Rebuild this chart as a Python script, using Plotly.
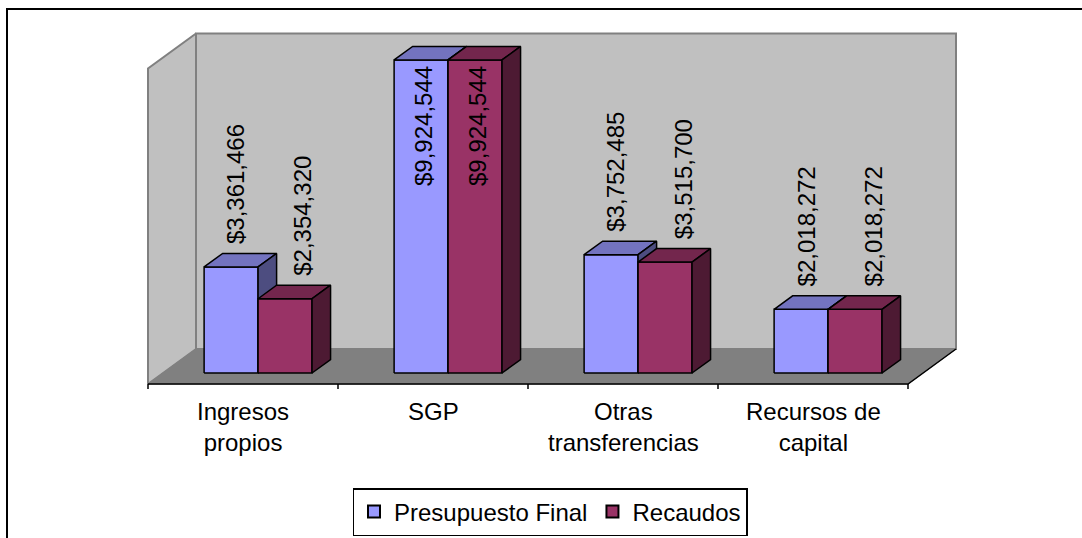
import plotly.graph_objects as go

# ---------------- data ----------------
categories = ["Ingresos<br>propios", "SGP", "Otras<br>transferencias", "Recursos de<br>capital"]
presupuesto_final = [3361466, 9924544, 3752485, 2018272]
recaudos = [2354320, 9924544, 3515700, 2018272]
series_names = ["Presupuesto Final", "Recaudos"]
axis_max = 10_000_000

# ---------------- style / geometry ----------------
W, H = 1082, 538
PX_L, PX_R, PX_T, PX_B = 140, 965, 24, 392   # plot area in pixels
FRONT_X0 = 148      # pixel of category axis start
CAT_PX = 190        # pixels per category
FLOOR_PX = 384      # pixel of front floor edge
U = 31700           # value units per pixel
DX = 48 / CAT_PX    # full depth shift in x units
DY = 35 * U         # full depth shift in y units
D0, D1 = 0.314, 0.70  # bar depth span
BAR_OFF, BAR_W = 0.216, 0.284

front_cols = ["#9999FF", "#993366"]
top_cols = ["#7373BF", "#73264D"]
side_cols = ["#4D4D80", "#4D1A33"]
FONT = "Liberation Sans, Arial, sans-serif"


def proj(x, y, d):
    return x + d * DX, y + d * DY


fig = go.Figure()


def poly(pts, fill, line_color, lw):
    xs = [p[0] for p in pts] + [pts[0][0]]
    ys = [p[1] for p in pts] + [pts[0][1]]
    fig.add_trace(go.Scatter(x=xs, y=ys, mode="lines", fill="toself",
                             fillcolor=fill, line=dict(color=line_color, width=lw),
                             hoverinfo="skip", showlegend=False))


def line(pts, color, lw):
    fig.add_trace(go.Scatter(x=[p[0] for p in pts], y=[p[1] for p in pts], mode="lines",
                             line=dict(color=color, width=lw), hoverinfo="skip",
                             showlegend=False))


n = len(categories)
# walls and floor
poly([proj(0, 0, 1), proj(n, 0, 1), proj(n, axis_max, 1), proj(0, axis_max, 1)],
     "#C0C0C0", "#808080", 2)
poly([proj(0, 0, 0), proj(0, 0, 1), proj(0, axis_max, 1), proj(0, axis_max, 0)],
     "#C0C0C0", "#808080", 2)
poly([proj(0, 0, 0), proj(n, 0, 0), proj(n, 0, 1), proj(0, 0, 1)],
     "#808080", "#808080", 1)
line([proj(0, 0, 0), proj(n, 0, 0), proj(n, 0, 1)], "black", 1.5)
for i in range(n + 1):
    line([(i, 0), (i, -5 * U)], "black", 1.5)

# bars
all_series = [presupuesto_final, recaudos]
for i in range(n):
    for s, vals in enumerate(all_series):
        v = vals[i]
        x0 = i + BAR_OFF + s * BAR_W
        x1 = x0 + BAR_W
        poly([proj(x0, 0, D0), proj(x1, 0, D0), proj(x1, v, D0), proj(x0, v, D0)],
             front_cols[s], "black", 1.5)
        poly([proj(x0, v, D0), proj(x1, v, D0), proj(x1, v, D1), proj(x0, v, D1)],
             top_cols[s], "black", 1.5)
        poly([proj(x1, 0, D0), proj(x1, 0, D1), proj(x1, v, D1), proj(x1, v, D0)],
             side_cols[s], "black", 1.5)

pw = PX_R - PX_L
ph = PX_B - PX_T

# data labels
annotations = []
for i in range(n):
    for s, vals in enumerate(all_series):
        v = vals[i]
        x0 = i + BAR_OFF + s * BAR_W
        cx, ty = proj(x0 + BAR_W / 2, v, D0)
        if v > 0.6 * axis_max:
            annotations.append(dict(x=cx + 3 / CAT_PX, y=ty - 4 * U, xref="x", yref="y",
                                    text=f"${v:,}", textangle=-90, showarrow=False,
                                    yanchor="top", xanchor="center",
                                    font=dict(family=FONT, size=24, color="black")))
        else:
            off = [5, 18][s]
            annotations.append(dict(x=cx + off / CAT_PX, y=ty + 21 * U, xref="x", yref="y",
                                    text=f"${v:,}", textangle=-90, showarrow=False,
                                    yanchor="bottom", xanchor="center",
                                    font=dict(family=FONT, size=24, color="black")))

# category labels
for i, c in enumerate(categories):
    annotations.append(dict(x=i + 0.5, y=(PX_B - 396) / ph, xref="x", yref="paper",
                            text=c, showarrow=False, yanchor="top", xanchor="center",
                            font=dict(family=FONT, size=24, color="black")))

# legend entries
for s, name in enumerate(series_names):
    fig.add_trace(go.Scatter(x=[None], y=[None], mode="markers", name=name,
                             marker=dict(symbol="square", size=12, color=front_cols[s],
                                         line=dict(color="black", width=1.5))))

fig.update_layout(
    width=W, height=H,
    margin=dict(l=PX_L, r=W - PX_R, t=PX_T, b=H - PX_B, pad=0, autoexpand=False),
    paper_bgcolor="white", plot_bgcolor="rgba(0,0,0,0)",
    xaxis=dict(range=[(PX_L - FRONT_X0) / CAT_PX, (PX_R - FRONT_X0) / CAT_PX],
               visible=False, fixedrange=True),
    yaxis=dict(range=[(FLOOR_PX - PX_B) * U, (FLOOR_PX - PX_T) * U],
               visible=False, fixedrange=True),
    annotations=annotations,
    showlegend=True,
    legend=dict(orientation="h", x=(550 - PX_L) / pw, xanchor="center",
                y=(PX_B - 488) / ph, yanchor="top",
                bordercolor="black", borderwidth=1.5, bgcolor="white",
                font=dict(family=FONT, size=24, color="black"),
                itemsizing="constant", tracegroupgap=0),
    shapes=[dict(type="rect", xref="paper", yref="paper",
                 x0=(7 - PX_L) / pw, x1=(1300 - PX_L) / pw,
                 y0=(PX_B - 800) / ph, y1=(PX_B - 9) / ph,
                 line=dict(color="black", width=2), fillcolor="rgba(0,0,0,0)",
                 layer="below")],
)

fig.write_html("out.html", config={"displayModeBar": False},
               post_script="document.body.style.margin='0';")
